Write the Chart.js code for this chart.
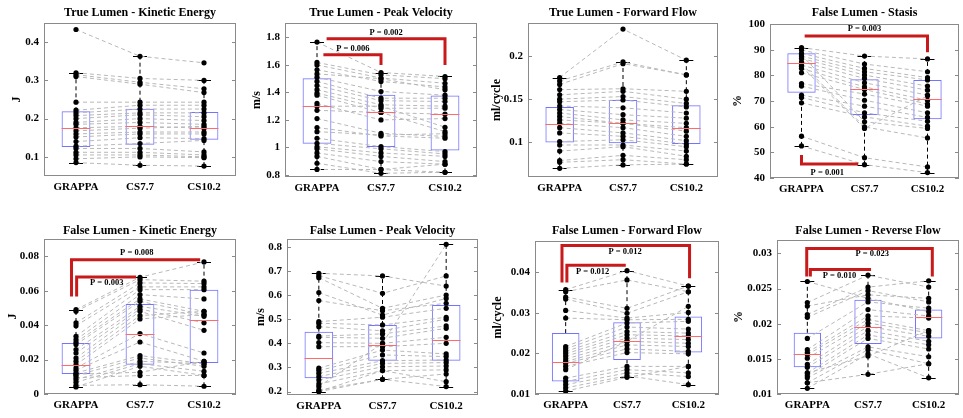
<!DOCTYPE html>
<html><head><meta charset="utf-8">
<script src="https://cdn.jsdelivr.net/npm/chart.js@4"></script>
<style>
html,body{margin:0;padding:0;background:#fff;width:963px;height:418px;overflow:hidden;position:relative}
canvas{position:absolute}
</style></head><body>
<script>
const categories = ['GRAPPA', 'CS7.7', 'CS10.2'];

// ---- True Lumen - Kinetic Energy (J)
const tlKE_grappa = [0.433,0.320,0.315,0.310,0.243,0.222,0.215,0.208,0.200,0.190,0.185,0.176,0.168,0.160,0.152,0.140,0.128,0.122,0.112,0.105,0.095,0.085];
const tlKE_cs77   = [0.363,0.305,0.295,0.290,0.243,0.235,0.225,0.215,0.210,0.200,0.190,0.180,0.175,0.165,0.160,0.150,0.135,0.122,0.112,0.105,0.100,0.078];
const tlKE_cs102  = [0.346,0.300,0.278,0.268,0.243,0.235,0.225,0.215,0.205,0.195,0.185,0.175,0.180,0.165,0.160,0.148,0.143,0.113,0.105,0.100,0.098,0.076];
const tlKE_q1 = [0.126,0.132,0.145], tlKE_med = [0.176,0.180,0.176], tlKE_q3 = [0.219,0.226,0.217];
const tlKE_wlo = [0.085,0.078,0.076], tlKE_whi = [0.320,0.363,0.300];
const tlKE_ticks = [0.1,0.2,0.3,0.4];

// ---- True Lumen - Peak Velocity (m/s)
const tlPV_grappa = [1.766,1.618,1.600,1.565,1.535,1.510,1.480,1.450,1.420,1.395,1.380,1.320,1.300,1.270,1.210,1.145,1.115,1.067,1.030,1.005,0.990,0.960,0.935,0.885,0.840];
const tlPV_cs77   = [1.545,1.528,1.505,1.480,1.500,1.407,1.358,1.340,1.310,1.285,1.254,1.200,1.300,1.254,1.103,1.084,1.090,1.006,0.990,0.960,0.935,0.897,0.840,0.812,0.840];
const tlPV_cs102  = [1.516,1.500,1.467,1.440,1.420,1.380,1.358,1.334,1.300,1.285,1.242,1.210,1.147,1.115,1.080,1.067,1.100,0.970,0.953,0.935,0.897,0.878,0.878,0.819,0.819];
const tlPV_q1 = [1.026,1.004,0.977], tlPV_med = [1.300,1.256,1.242], tlPV_q3 = [1.504,1.383,1.378];
const tlPV_wlo = [0.840,0.812,0.819], tlPV_whi = [1.766,1.545,1.516];
const tlPV_ticks = [0.8,1.0,1.2,1.4,1.6,1.8];

// ---- True Lumen - Forward Flow (ml/cycle)
const tlFF_grappa = [0.175,0.171,0.167,0.161,0.155,0.150,0.147,0.142,0.138,0.134,0.130,0.126,0.122,0.117,0.111,0.101,0.097,0.090,0.079,0.077,0.070];
const tlFF_cs77   = [0.231,0.193,0.191,0.162,0.159,0.153,0.149,0.140,0.132,0.126,0.122,0.122,0.117,0.111,0.107,0.103,0.097,0.095,0.085,0.080,0.074];
const tlFF_cs102  = [0.195,0.178,0.178,0.159,0.150,0.145,0.141,0.134,0.128,0.122,0.117,0.113,0.107,0.102,0.098,0.095,0.090,0.084,0.080,0.075,0.075];
const tlFF_q1 = [0.100,0.099,0.098], tlFF_med = [0.1215,0.122,0.1165], tlFF_q3 = [0.141,0.149,0.143];
const tlFF_wlo = [0.070,0.074,0.075], tlFF_whi = [0.175,0.193,0.195];
const tlFF_ticks = [0.1,0.15,0.2];

// ---- False Lumen - Stasis (%)
const flST_grappa = [90.8,89.9,88.6,87.5,86.6,85.3,84.0,82.7,81.0,76.8,75.8,72.3,71.4,69.3,88.0,84.5,83.5,56.3,52.5];
const flST_cs77   = [87.5,84.4,82.7,81.4,80.1,78.8,77.1,75.5,74.5,72.7,70.3,68.0,65.4,63.8,61.9,59.9,59.3,47.9,45.2];
const flST_cs102  = [86.4,81.4,79.1,78.2,75.8,74.2,72.3,70.3,68.8,68.0,65.4,63.6,62.1,60.2,59.3,55.6,72.0,44.3,42.1];
const flST_q1 = [73.2,64.5,62.9], flST_med = [84.7,74.5,70.7], flST_q3 = [88.6,78.5,78.2];
const flST_wlo = [52.5,45.2,42.1], flST_whi = [90.8,87.5,86.4];
const flST_ticks = [40,50,60,70,80,90,100];

// ---- False Lumen - Kinetic Energy (J)
const flKE_grappa = [0.049,0.048,0.0413,0.0397,0.0335,0.0316,0.030,0.0287,0.0258,0.0238,0.0209,0.019,0.017,0.0151,0.0138,0.0122,0.0108,0.0083,0.0068,0.0041,0.0115,0.0095,0.0050];
const flKE_cs77   = [0.0678,0.0664,0.0645,0.0622,0.0606,0.0577,0.0552,0.0538,0.0509,0.0494,0.048,0.0455,0.0436,0.0351,0.0302,0.0223,0.0209,0.019,0.0176,0.0161,0.0126,0.0107,0.0054];
const flKE_cs102  = [0.0767,0.0655,0.0641,0.0622,0.0606,0.0552,0.048,0.0461,0.0451,0.0413,0.037,0.048,0.0461,0.0238,0.019,0.0176,0.0161,0.0176,0.0132,0.0108,0.019,0.0108,0.0045];
const flKE_q1 = [0.0116,0.017,0.018], flKE_med = [0.0169,0.0351,0.0432], flKE_q3 = [0.0296,0.0523,0.0606];
const flKE_wlo = [0.0041,0.0054,0.0045], flKE_whi = [0.049,0.0678,0.0767];
const flKE_ticks = [0,0.02,0.04,0.06,0.08];

// ---- False Lumen - Peak Velocity (m/s)
const flPV_grappa = [0.690,0.680,0.672,0.610,0.577,0.490,0.483,0.469,0.430,0.425,0.403,0.386,0.297,0.287,0.276,0.262,0.248,0.232,0.221,0.207,0.200,0.200];
const flPV_cs77   = [0.679,0.607,0.545,0.517,0.535,0.508,0.476,0.452,0.439,0.421,0.400,0.386,0.372,0.352,0.328,0.317,0.303,0.287,0.400,0.251,0.287,0.251];
const flPV_cs102  = [0.637,0.679,0.600,0.586,0.566,0.545,0.508,0.500,0.472,0.462,0.425,0.400,0.356,0.345,0.331,0.320,0.306,0.290,0.810,0.273,0.241,0.221];
const flPV_q1 = [0.255,0.328,0.328], flPV_med = [0.341,0.393,0.414], flPV_q3 = [0.448,0.476,0.559];
const flPV_wlo = [0.200,0.251,0.221], flPV_whi = [0.690,0.679,0.810];
const flPV_ticks = [0.2,0.3,0.4,0.5,0.6,0.7,0.8];

// ---- False Lumen - Forward Flow (ml/cycle)
const flFF_grappa = [0.0357,0.0352,0.0339,0.0334,0.0306,0.0287,0.0217,0.0211,0.0205,0.0199,0.0193,0.0186,0.0180,0.0176,0.0168,0.0160,0.0139,0.0131,0.0123,0.0115,0.0107];
const flFF_cs77   = [0.0404,0.0381,0.0311,0.0299,0.0287,0.0283,0.0275,0.0265,0.0254,0.0246,0.0238,0.0230,0.0221,0.0211,0.0202,0.0230,0.0168,0.0160,0.0152,0.0145,0.0141];
const flFF_cs102  = [0.0366,0.0352,0.0366,0.0352,0.0301,0.0284,0.0279,0.0260,0.0250,0.0243,0.0234,0.0225,0.0217,0.0205,0.0199,0.0316,0.0168,0.0152,0.0143,0.0123,0.0168];
const flFF_q1 = [0.0131,0.0184,0.0202], flFF_med = [0.018,0.023,0.0244], flFF_q3 = [0.025,0.0277,0.0291];
const flFF_wlo = [0.0107,0.0141,0.0123], flFF_whi = [0.0357,0.0404,0.0366];
const flFF_ticks = [0.01,0.02,0.03,0.04];

// ---- False Lumen - Reverse Flow (%)
const flRF_grappa = [0.0260,0.0230,0.0225,0.0213,0.0209,0.0179,0.0163,0.0159,0.0156,0.0151,0.0142,0.0138,0.0130,0.0126,0.0123,0.0116,0.0108,0.0130,0.0116];
const flRF_cs77   = [0.0236,0.0269,0.0241,0.0252,0.0247,0.0231,0.0220,0.0211,0.0206,0.0201,0.0196,0.0190,0.0184,0.0179,0.0167,0.0163,0.0157,0.0154,0.0128];
const flRF_cs102  = [0.0217,0.0252,0.0236,0.0261,0.0231,0.0222,0.0211,0.0208,0.0190,0.0187,0.0182,0.0175,0.0170,0.0164,0.0153,0.0143,0.0123,0.0190,0.0143];
const flRF_q1 = [0.0138,0.0171,0.0179], flRF_med = [0.0157,0.0195,0.0209], flRF_q3 = [0.0187,0.0234,0.022];
const flRF_wlo = [0.0108,0.0128,0.0123], flRF_whi = [0.026,0.0269,0.0261];
const flRF_ticks = [0.01,0.015,0.02,0.025,0.03];

// significance brackets: x in category index units, y in data units
const panels = [
  {title:'True Lumen - Kinetic Energy', ylabel:'J', s:[tlKE_grappa,tlKE_cs77,tlKE_cs102], q1:tlKE_q1, med:tlKE_med, q3:tlKE_q3, wlo:tlKE_wlo, whi:tlKE_whi, ticks:tlKE_ticks, min:0.05, max:0.45,
   area:{cl:44,cr:238,ct:23,cb:176}, T:0, titleY:13, ytX:17, br:[]},
  {title:'True Lumen - Peak Velocity', ylabel:'m/s', s:[tlPV_grappa,tlPV_cs77,tlPV_cs102], q1:tlPV_q1, med:tlPV_med, q3:tlPV_q3, wlo:tlPV_wlo, whi:tlPV_whi, ticks:tlPV_ticks, min:0.785, max:1.905,
   area:{cl:285,cr:479,ct:23,cb:177}, T:0, titleY:13, ytX:257,
   br:[{x1:0.1,x2:1.0,y:1.674,l:null,r:1.6,t:'P = 0.006',tx:0.56,ty:1.718},
       {x1:0.15,x2:2.0,y:1.79,l:null,r:1.6,t:'P = 0.002',tx:1.08,ty:1.834}]},
  {title:'True Lumen - Forward Flow', ylabel:'ml/cycle', s:[tlFF_grappa,tlFF_cs77,tlFF_cs102], q1:tlFF_q1, med:tlFF_med, q3:tlFF_q3, wlo:tlFF_wlo, whi:tlFF_whi, ticks:tlFF_ticks, min:0.06, max:0.238,
   area:{cl:528,cr:720,ct:23,cb:177}, T:0, titleY:13, ytX:497, br:[]},
  {title:'False Lumen - Stasis', ylabel:'%', s:[flST_grappa,flST_cs77,flST_cs102], q1:flST_q1, med:flST_med, q3:flST_q3, wlo:flST_wlo, whi:flST_whi, ticks:flST_ticks, min:40, max:100,
   area:{cl:770,cr:961,ct:24,cb:178}, T:0, titleY:13, ytX:738,
   br:[{x1:0.05,x2:2.0,y:95.3,l:null,r:89,t:'P = 0.003',tx:1.0,ty:98.0},
       {x1:0.0,x2:0.9,y:45.5,l:49,r:null,t:'P = 0.001',tx:0.41,ty:42.0}]},
  {title:'False Lumen - Kinetic Energy', ylabel:'J', s:[flKE_grappa,flKE_cs77,flKE_cs102], q1:flKE_q1, med:flKE_med, q3:flKE_q3, wlo:flKE_wlo, whi:flKE_whi, ticks:flKE_ticks, min:0, max:0.09,
   area:{cl:44,cr:238,ct:239,cb:394}, T:210, titleY:231, ytX:13,
   br:[{x1:-0.07,x2:1.94,y:0.078,l:0.0566,r:null,t:'P = 0.008',tx:0.95,ty:0.0821},
       {x1:0.01,x2:0.94,y:0.068,l:0.0566,r:null,t:'P = 0.003',tx:0.48,ty:0.0647}]},
  {title:'False Lumen - Peak Velocity', ylabel:'m/s', s:[flPV_grappa,flPV_cs77,flPV_cs102], q1:flPV_q1, med:flPV_med, q3:flPV_q3, wlo:flPV_wlo, whi:flPV_whi, ticks:flPV_ticks, min:0.186, max:0.832,
   area:{cl:287,cr:480,ct:239,cb:395}, T:210, titleY:231, ytX:261, br:[]},
  {title:'False Lumen - Forward Flow', ylabel:'ml/cycle', s:[flFF_grappa,flFF_cs77,flFF_cs102], q1:flFF_q1, med:flFF_med, q3:flFF_q3, wlo:flFF_wlo, whi:flFF_whi, ticks:flFF_ticks, min:0.01, max:0.0477,
   area:{cl:535,cr:721,ct:241,cb:394}, T:210, titleY:231, ytX:498,
   br:[{x1:-0.06,x2:2.02,y:0.0466,l:0.0375,r:0.0385,t:'P = 0.012',tx:0.97,ty:0.045},
       {x1:0.02,x2:0.98,y:0.0417,l:0.0375,r:null,t:'P = 0.012',tx:0.44,ty:0.0401}]},
  {title:'False Lumen - Reverse Flow', ylabel:'%', s:[flRF_grappa,flRF_cs77,flRF_cs102], q1:flRF_q1, med:flRF_med, q3:flRF_q3, wlo:flRF_wlo, whi:flRF_whi, ticks:flRF_ticks, min:0.01, max:0.0319,
   area:{cl:777,cr:961,ct:240,cb:394}, T:210, titleY:231, ytX:739,
   br:[{x1:-0.01,x2:2.06,y:0.0307,l:0.0267,r:0.0267,t:'P = 0.023',tx:1.07,ty:0.030},
       {x1:0.05,x2:1.05,y:0.0277,l:0.0267,r:null,t:'P = 0.010',tx:0.53,ty:0.0268}]}
];

const FONT = 'Liberation Serif';
const fmt = v => String(Math.round(v * 100000) / 100000);

function panelPlugin(p) {
  return {
    id: 'panelDeco',
    beforeDatasetsDraw(chart) {
      const ctx = chart.ctx, xs = chart.scales.x, ys = chart.scales.y;
      ctx.save();
      for (let j = 0; j < 3; j++) {
        const x = xs.getPixelForValue(j);
        ctx.strokeStyle = '#000'; ctx.lineWidth = 1; ctx.setLineDash([4, 3]);
        ctx.beginPath();
        ctx.moveTo(x, ys.getPixelForValue(p.wlo[j])); ctx.lineTo(x, ys.getPixelForValue(p.q1[j]));
        ctx.moveTo(x, ys.getPixelForValue(p.q3[j])); ctx.lineTo(x, ys.getPixelForValue(p.whi[j]));
        ctx.stroke();
        ctx.setLineDash([]);
        ctx.beginPath();
        for (const v of [p.wlo[j], p.whi[j]]) {
          const y = Math.round(ys.getPixelForValue(v)) + 0.5;
          ctx.moveTo(x - 7, y); ctx.lineTo(x + 7, y);
        }
        ctx.stroke();
      }
      ctx.restore();
    },
    afterDatasetsDraw(chart) {
      const ctx = chart.ctx, xs = chart.scales.x, ys = chart.scales.y;
      const meta = chart.getDatasetMeta(chart.data.datasets.length - 1);
      ctx.save();
      ctx.strokeStyle = '#ff6a6a'; ctx.lineWidth = 1;
      for (let j = 0; j < 3; j++) {
        const bar = meta.data[j];
        const x = xs.getPixelForValue(j), w = bar.width;
        const y = Math.round(ys.getPixelForValue(p.med[j])) + 0.5;
        ctx.beginPath(); ctx.moveTo(x - w / 2, y); ctx.lineTo(x + w / 2, y); ctx.stroke();
      }
      ctx.restore();
    },
    afterDraw(chart) {
      const ctx = chart.ctx, xs = chart.scales.x, ys = chart.scales.y, a = chart.chartArea;
      ctx.save();
      ctx.strokeStyle = '#8a8a8a'; ctx.lineWidth = 1;
      ctx.strokeRect(Math.round(a.left) + 0.5, Math.round(a.top) + 0.5, Math.round(a.right - a.left) - 1, Math.round(a.bottom - a.top) - 1);
      ctx.beginPath();
      for (const v of p.ticks) {
        const y = Math.round(ys.getPixelForValue(v)) + 0.5;
        ctx.moveTo(a.left, y); ctx.lineTo(a.left + 4, y);
        ctx.moveTo(a.right - 4, y); ctx.lineTo(a.right, y);
      }
      ctx.stroke();
      const x0 = xs.getPixelForValue(0), dx = xs.getPixelForValue(1) - x0;
      const px = v => x0 + v * dx;
      ctx.strokeStyle = '#c81a1a'; ctx.lineWidth = 3; ctx.lineJoin = 'miter'; ctx.lineCap = 'butt';
      for (const b of p.br) {
        ctx.beginPath();
        if (b.l !== null) { ctx.moveTo(px(b.x1), ys.getPixelForValue(b.l)); ctx.lineTo(px(b.x1), ys.getPixelForValue(b.y)); }
        else ctx.moveTo(px(b.x1), ys.getPixelForValue(b.y));
        ctx.lineTo(px(b.x2), ys.getPixelForValue(b.y));
        if (b.r !== null) ctx.lineTo(px(b.x2), ys.getPixelForValue(b.r));
        ctx.stroke();
        ctx.fillStyle = '#000'; ctx.font = 'bold 8.5px "' + FONT + '"';
        ctx.textAlign = 'center'; ctx.textBaseline = 'middle';
        ctx.fillText(b.t, px(b.tx), ys.getPixelForValue(b.ty));
      }
      ctx.restore();
    }
  };
}

function makeChart(p) {
  const yw = 52, padR = 2, xh = 30;
  const L = p.area.cl - yw;
  const W = yw + (p.area.cr - p.area.cl) + padR;
  const H = p.area.cb + xh - p.T;
  const c = document.createElement('canvas');
  c.width = W; c.height = H;
  c.style.left = L + 'px'; c.style.top = p.T + 'px';
  c.style.width = W + 'px'; c.style.height = H + 'px';
  document.body.appendChild(c);
  const tSize = 12, lh = tSize * 1.2;
  const pt = (p.titleY - p.T) - lh / 2;
  const pb = (p.area.ct - p.T) - lh - pt;
  const ytPad = Math.max(0, p.ytX - L - lh / 2);
  const datasets = [];
  const n = p.s[0].length;
  for (let i = 0; i < n; i++) {
    datasets.push({type: 'line', data: [p.s[0][i], p.s[1][i], p.s[2][i]],
      borderColor: '#b8b8b8', borderWidth: 1, borderDash: [4, 3], tension: 0,
      pointRadius: 2.6, pointBackgroundColor: '#000', pointBorderColor: '#000', pointBorderWidth: 0, order: 0});
  }
  datasets.push({type: 'bar', data: [0, 1, 2].map(j => [p.q1[j], p.q3[j]]),
    backgroundColor: 'rgba(0,0,0,0)', borderColor: '#7373ff', borderWidth: 1, borderSkipped: false,
    barPercentage: 0.45, categoryPercentage: 1, order: 1});
  const tickFont = {family: FONT, size: 11, weight: 'bold'};
  new Chart(c, {
    type: 'bar',
    data: {labels: categories, datasets},
    options: {
      responsive: false, animation: false, devicePixelRatio: 1,
      layout: {padding: {left: 0, right: padR, top: 0, bottom: 0}},
      plugins: {
        legend: {display: false}, tooltip: {enabled: false},
        title: {display: true, text: p.title, fullSize: false, color: '#000',
          font: {family: FONT, size: tSize, weight: 'bold'}, padding: {top: pt, bottom: pb}}
      },
      scales: {
        x: {type: 'category', offset: true, grid: {display: false, drawTicks: false}, border: {display: false},
          ticks: {font: tickFont, color: '#000', padding: 5, maxRotation: 0, autoSkip: false},
          afterFit: s => { s.height = xh; }},
        y: {type: 'linear', min: p.min, max: p.max, grid: {display: false, drawTicks: false}, border: {display: false},
          ticks: {font: tickFont, color: '#000', padding: 5, callback: v => fmt(v)},
          afterBuildTicks: s => { s.ticks = p.ticks.map(v => ({value: v})); },
          afterFit: s => { s.width = yw; },
          title: {display: true, text: p.ylabel, color: '#000', font: {family: FONT, size: 12, weight: 'bold'}, padding: {top: ytPad, bottom: 0}}}
      }
    },
    plugins: [panelPlugin(p)]
  });
}

panels.forEach(makeChart);
</script>
</body></html>
